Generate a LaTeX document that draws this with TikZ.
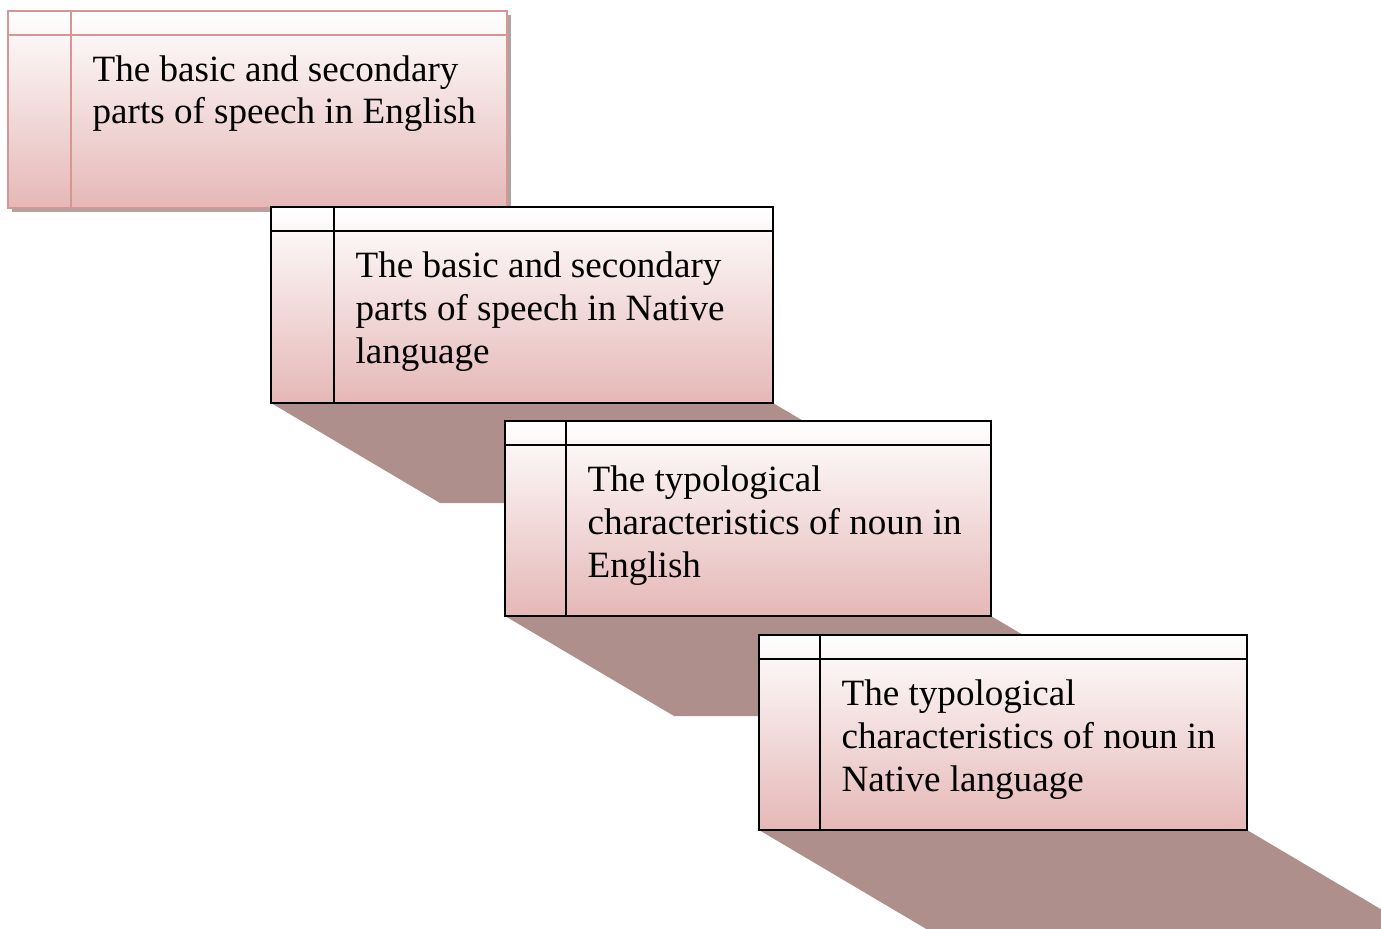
\documentclass[tikz,border=0pt]{standalone}
\usepackage{fontspec}
\setmainfont{Liberation Serif}
\usepackage{tikz}
\usetikzlibrary{calc, positioning}
\usepackage{xcolor}
\definecolor{boxpink}{HTML}{E5B8B7}
\definecolor{edgepink}{HTML}{D99594}
\definecolor{stairshade}{HTML}{AF8F8C}
\definecolor{dropgray}{HTML}{AFA3A3}

\begin{document}
\begin{tikzpicture}[x=0.3234pt, y=-0.3234pt,
    panel/.style={top color=white, bottom color=boxpink, draw=black, line width=0.8pt},
    rule/.style={draw=black, line width=0.8pt},
    label/.style={anchor=base west, align=left, inner sep=0pt, font=\fontsize{12}{13.9}\selectfont}]
    \clip (0,0) rectangle (1381,929);
    \useasboundingbox (0,0) rectangle (1381,929);

    % first box: English, pink frame with small drop shadow
    \begin{scope}[shift={(8,11)}]
        \fill[dropgray] (4,4) rectangle (503,201);
        \shade[panel, draw=edgepink] (0,0) rectangle (499,197);
        \draw[rule, draw=edgepink] (63,0) -- (63,197) (0,24) -- (499,24);
        % base anchor sits on the last line
        \node[label] (speechen) at (84,113) {The basic and secondary\\parts of speech in English};
    \end{scope}

    % second box: Native language
    \begin{scope}[shift={(271,207)}]
        \fill[stairshade] (0,196) -- (502,196) -- ++(169,100) -- (169,296) -- cycle;
        \shade[panel] (0,0) rectangle (502,196);
        \draw[rule] (63,0) -- (63,196) (0,24) -- (502,24);
        \node[label] (speechnat) at (84,156) {The basic and secondary\\parts of speech in Native\\language};
    \end{scope}

    % third box: noun in English
    \begin{scope}[shift={(505,421)}]
        \fill[stairshade] (0,195) -- (486,195) -- ++(169,100) -- (169,295) -- cycle;
        \shade[panel] (0,0) rectangle (486,195);
        \draw[rule] (61,0) -- (61,195) (0,24) -- (486,24);
        \node[label] (nounen) at (82,156) {The typological\\characteristics of noun in\\English};
    \end{scope}

    % fourth box: noun in Native language
    \begin{scope}[shift={(759,635)}]
        \fill[stairshade] (0,195) -- (488,195) -- ++(169,100) -- (169,295) -- cycle;
        \shade[panel] (0,0) rectangle (488,195);
        \draw[rule] (61,0) -- (61,195) (0,24) -- (488,24);
        \node[label] (nounnat) at (82,156) {The typological\\characteristics of noun in\\Native language};
    \end{scope}
\end{tikzpicture}
\end{document}
